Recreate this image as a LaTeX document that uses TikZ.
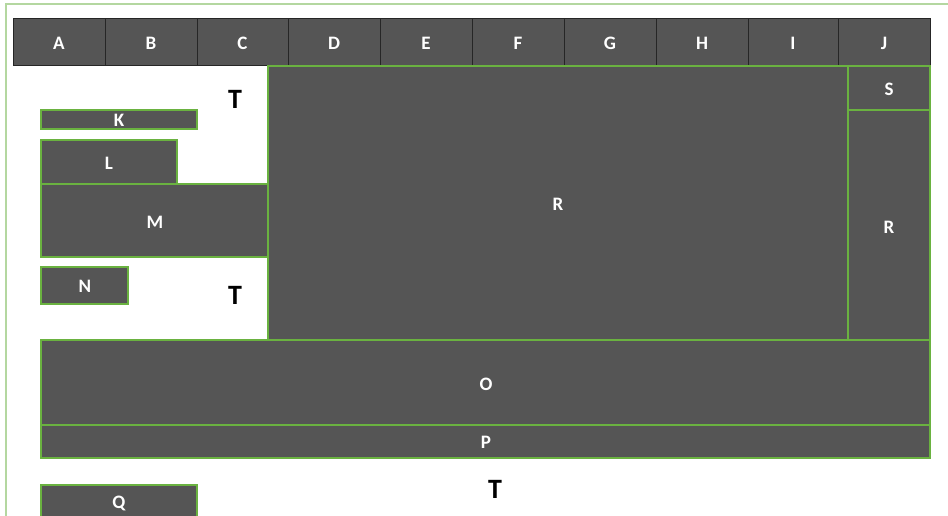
\documentclass[tikz,border=0pt]{standalone}
\usepackage{fontspec}
\setmainfont{Carlito}
\begin{document}
\begin{tikzpicture}[x=1pt,y=-1pt,
  hdr/.style={draw=black!85,line width=0.9pt,fill=boxgray},
  blk/.style={draw=boxgreen,line width=1.4pt,fill=boxgray},
  lbl/.style={text=white,font=\bfseries\fontsize{19}{19}\selectfont},
  tlbl/.style={text=black,font=\bfseries\fontsize{28}{28}\selectfont}]
\definecolor{boxgray}{RGB}{85,85,85}
\definecolor{boxgreen}{RGB}{106,178,64}
\definecolor{framegreen}{RGB}{180,215,160}
\useasboundingbox (0,0) rectangle (948,516);
\clip (0,0) rectangle (948,516);
% outer frame
\draw[framegreen,line width=1.2pt] (6,520) -- (6,4) -- (950,4);
% header cells
\foreach \n/\a/\b in {A/13/105,B/105/197,C/197/288,D/288/380,E/380/472,F/472/564,G/564/656,H/656/748,I/748/838,J/838/930}{
  \draw[hdr] (\a,18) rectangle (\b,65);
  \node[lbl] (h\n) at ({(\a+\b)/2},43) {\n};
}
% main blocks
\draw[blk] (268,66) rectangle (848,340); \node[lbl] (R1) at (558,204) {R};
\draw[blk] (848,66) rectangle (930,110); \node[lbl] (S) at (889,89) {S};
\draw[blk] (848,110) rectangle (930,340); \node[lbl] (R2) at (889,227) {R};
\draw[blk] (41,110) rectangle (197,129); \node[lbl] (K) at (119,120) {K};
\draw[blk] (41,140) rectangle (177,184); \node[lbl] (L) at (109,163) {L};
\draw[blk] (41,184) rectangle (268,257); \node[lbl] (M) at (155,222) {M};
\draw[blk] (41,267) rectangle (128,304); \node[lbl] (N) at (85,286) {N};
\draw[blk] (41,340) rectangle (930,425); \node[lbl] (O) at (486,384) {O};
\draw[blk] (41,425) rectangle (930,458); \node[lbl] (P) at (486,442) {P};
\draw[blk] (41,485) rectangle (197,530); \node[lbl] (Q) at (119,503) {Q};
% T labels
\node[tlbl] (T1) at (235,99) {T};
\node[tlbl] (T2) at (235,295) {T};
\node[tlbl] (T3) at (495,489) {T};
\end{tikzpicture}
\end{document}
